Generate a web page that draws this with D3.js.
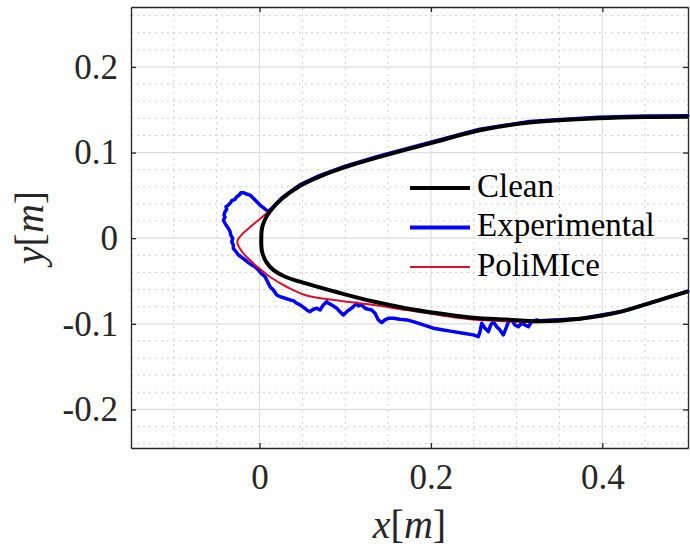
<!DOCTYPE html>
<html>
<head>
<meta charset="utf-8">
<script src="https://cdn.jsdelivr.net/npm/d3@7"></script>
<style>
  html, body { margin: 0; padding: 0; background: #fff; }
  svg { display: block; font-family: "Liberation Serif", "Times New Roman", serif; }
</style>
</head>
<body>
<svg id="chart" width="690" height="550"></svg>
<script>
// Clean airfoil contour: lower surface (right to left), leading edge, upper surface (left to right)
const cleanX = [0.500, 0.461, 0.421, 0.374, 0.327, 0.288, 0.249, 0.211, 0.172, 0.133, 0.094, 0.055, 0.030, 0.016, 0.008, 0.003, 0.002,
                0.003, 0.006, 0.012, 0.026, 0.047, 0.070, 0.100, 0.140, 0.200, 0.257, 0.315, 0.395, 0.450, 0.500];
const cleanY = [-0.062, -0.074, -0.086, -0.094, -0.097, -0.095, -0.093, -0.088, -0.082, -0.074, -0.064, -0.053, -0.045, -0.037, -0.028, -0.016, -0.003,
                0.012, 0.021, 0.031, 0.046, 0.061, 0.072, 0.083, 0.095, 0.111, 0.126, 0.135, 0.140, 0.1415, 0.1418];

// Measured ice shape (experimental): upper surface (right to left), ice horn, lower surface (left to right)
const expX = [0.500, 0.450, 0.395, 0.315, 0.257, 0.200, 0.140, 0.100, 0.070, 0.047, 0.026,
              0.0103, 0.0006, -0.0072, -0.0111, -0.0149, -0.0189, -0.0219, -0.0236, -0.0266, -0.0286, -0.0324, -0.0344,
              -0.0364, -0.0391, -0.0383, -0.0403, -0.0414, -0.0403, -0.0422, -0.0403, -0.0383, -0.0364, -0.0344, -0.0336,
              -0.0313, -0.0324, -0.0306, -0.0306, -0.0274, -0.0247, -0.0208, -0.0169, -0.0131, -0.0091, -0.0053, -0.0014,
              0.0026, 0.0064, 0.0123, 0.0161, 0.0201, 0.0239, 0.0298, 0.0356, 0.0394, 0.0434, 0.0473, 0.0511, 0.0551, 0.0589,
              0.0628, 0.0667, 0.0706, 0.0744, 0.0784, 0.0803, 0.0842, 0.0901, 0.0939, 0.0978, 0.1017, 0.1056, 0.1095, 0.1134,
              0.1153, 0.1193, 0.1231, 0.1270, 0.1309, 0.1348, 0.1386, 0.1426, 0.1464, 0.1503, 0.1561, 0.1639, 0.1718, 0.1795,
              0.1911, 0.2028, 0.2145, 0.2261, 0.2378, 0.2495, 0.2553, 0.2573, 0.2593, 0.2631, 0.2670, 0.2698, 0.2728, 0.2768,
              0.2806, 0.2845, 0.2884, 0.2903, 0.2943, 0.2981, 0.3020, 0.3059, 0.3098, 0.3137, 0.3176, 0.3235, 0.327, 0.374,
              0.421, 0.461, 0.500];
const expY = [0.1430, 0.1427, 0.1412, 0.1362, 0.1272, 0.1122, 0.0962, 0.0842, 0.0732, 0.0622, 0.0470,
              0.0309, 0.0387, 0.0466, 0.0504, 0.0516, 0.0531, 0.0531, 0.0504, 0.0484, 0.0454, 0.0438, 0.0407,
              0.0387, 0.0368, 0.0337, 0.0309, 0.0271, 0.0244, 0.0212, 0.0174, 0.0142, 0.0116, 0.0077, 0.0037,
              -0.0001, -0.0041, -0.0080, -0.0118, -0.0158, -0.0196, -0.0223, -0.0254, -0.0285, -0.0312, -0.0333, -0.0371,
              -0.0418, -0.0449, -0.0566, -0.0604, -0.0663, -0.0683, -0.0701, -0.0721, -0.0729, -0.0760, -0.0779, -0.0806, -0.0838, -0.0858,
              -0.0830, -0.0818, -0.0838, -0.0779, -0.0741, -0.0760, -0.0779, -0.0818, -0.0858, -0.0896, -0.0858, -0.0830, -0.0799, -0.0760,
              -0.0791, -0.0779, -0.0818, -0.0830, -0.0838, -0.0876, -0.0954, -0.0986, -0.0954, -0.0935, -0.0935, -0.0946, -0.0954, -0.0974,
              -0.1013, -0.1051, -0.1071, -0.1091, -0.1110, -0.1129, -0.1149, -0.1091, -0.0993, -0.1051, -0.1091, -0.1013, -0.0974, -0.1033,
              -0.1071, -0.1129, -0.1033, -0.0974, -0.0954, -0.1013, -0.1033, -0.0993, -0.1013, -0.1033, -0.0974, -0.0954, -0.0965, -0.0940,
              -0.0860, -0.0740, -0.0620];

// PoliMIce predicted ice shape around the leading edge
const iceX = [0.010, 0.001, -0.011, -0.021, -0.026, -0.023, -0.015, -0.003, 0.012, 0.032, 0.055, 0.094, 0.133, 0.172, 0.211, 0.249, 0.288, 0.316, 0.327];
const iceY = [0.031, 0.023, 0.013, 0.004, -0.004, -0.012, -0.022, -0.033, -0.045, -0.057, -0.067, -0.073, -0.078, -0.084, -0.090, -0.095, -0.097, -0.098, -0.098];

// Axis ticks
const xTicks = [0, 0.2, 0.4];
const yTicks = [-0.2, -0.1, 0, 0.1, 0.2];
const xTickLabels = ["0", "0.2", "0.4"];
const yTickLabels = ["-0.2", "-0.1", "0", "0.1", "0.2"];
const xMinor = d3.range(-0.15, 0.5001, 0.05);
const yMinor = d3.range(-0.24, 0.2601, 0.02);

const seriesNames = ["Clean", "Experimental", "PoliMIce"];
const seriesColors = ["#000000", "#0000ff", "#d6112b"];
const seriesWidths = [4, 4, 2];

const W = 690, H = 550;
const margin = { left: 131, right: 2, top: 7, bottom: 102 };
const svg = d3.select("#chart");

const x = d3.scaleLinear().domain([-0.15, 0.5]).range([margin.left, W - margin.right]);
const y = d3.scaleLinear().domain([-0.245, 0.27]).range([H - margin.bottom, margin.top]);

const axisColor = "#262626";
const isMajor = (v, ticks) => ticks.some(t => Math.abs(t - v) < 1e-6);

// Minor grid (dotted)
const grid = svg.append("g");
grid.selectAll("line.mx").data(xMinor.filter(v => !isMajor(v, xTicks))).join("line")
  .attr("x1", d => x(d)).attr("x2", d => x(d))
  .attr("y1", y.range()[0]).attr("y2", y.range()[1])
  .attr("stroke", "#cfcfcf").attr("stroke-width", 1).attr("stroke-dasharray", "2,4");
grid.selectAll("line.my").data(yMinor.filter(v => !isMajor(v, yTicks))).join("line")
  .attr("y1", d => y(d)).attr("y2", d => y(d))
  .attr("x1", x.range()[0]).attr("x2", x.range()[1])
  .attr("stroke", "#cfcfcf").attr("stroke-width", 1).attr("stroke-dasharray", "2,4");
// Major grid
grid.selectAll("line.gx").data(xTicks).join("line")
  .attr("x1", d => x(d)).attr("x2", d => x(d))
  .attr("y1", y.range()[0]).attr("y2", y.range()[1])
  .attr("stroke", "#dedede").attr("stroke-width", 1.2);
grid.selectAll("line.gy").data(yTicks).join("line")
  .attr("y1", d => y(d)).attr("y2", d => y(d))
  .attr("x1", x.range()[0]).attr("x2", x.range()[1])
  .attr("stroke", "#dedede").attr("stroke-width", 1.2);

// Curves
const toPts = (xs, ys) => xs.map((v, i) => [v, ys[i]]);
const smooth = d3.line().x(d => x(d[0])).y(d => y(d[1])).curve(d3.curveCatmullRom.alpha(0.5));
const jagged = d3.line().x(d => x(d[0])).y(d => y(d[1]));

const plot = svg.append("g");
plot.append("path").attr("d", jagged(toPts(expX, expY)))
  .attr("fill", "none").attr("stroke", seriesColors[1]).attr("stroke-width", 3.5)
  .attr("stroke-linejoin", "round").attr("stroke-linecap", "round");
plot.append("path").attr("d", smooth(toPts(iceX, iceY)))
  .attr("fill", "none").attr("stroke", seriesColors[2]).attr("stroke-width", seriesWidths[2])
  .attr("stroke-linejoin", "round");
plot.append("path").attr("d", smooth(toPts(cleanX, cleanY)))
  .attr("fill", "none").attr("stroke", seriesColors[0]).attr("stroke-width", seriesWidths[0])
  .attr("stroke-linejoin", "round");

// Axes (box with inward ticks)
const fmtX = d => xTickLabels[xTicks.indexOf(d)];
const fmtY = d => yTickLabels[yTicks.indexOf(d)];
const gB = svg.append("g").attr("transform", `translate(0,${y.range()[0]})`)
  .call(d3.axisBottom(x).tickValues(xTicks).tickFormat(fmtX).tickSizeInner(-5).tickSizeOuter(0).tickPadding(16));
const gL = svg.append("g").attr("transform", `translate(${x.range()[0]},0)`)
  .call(d3.axisLeft(y).tickValues(yTicks).tickFormat(fmtY).tickSizeInner(-5).tickSizeOuter(0).tickPadding(13));
const gT = svg.append("g").attr("transform", `translate(0,${y.range()[1]})`)
  .call(d3.axisTop(x).tickValues(xTicks).tickFormat("").tickSizeInner(-5).tickSizeOuter(0));
const gR = svg.append("g").attr("transform", `translate(${x.range()[1]},0)`)
  .call(d3.axisRight(y).tickValues(yTicks).tickFormat("").tickSizeInner(-5).tickSizeOuter(0));
[gB, gL, gT, gR].forEach(g => {
  g.select(".domain").attr("stroke", axisColor).attr("stroke-width", 1.3);
  g.selectAll(".tick line").attr("stroke", axisColor).attr("stroke-width", 1.3);
  g.selectAll(".tick text").attr("fill", axisColor)
    .style("font-family", "'Liberation Serif', serif").style("font-size", "35px");
});

// Axis titles
const xTitle = svg.append("text")
  .attr("x", (x.range()[0] + x.range()[1]) / 2).attr("y", 538)
  .attr("text-anchor", "middle").attr("fill", axisColor).style("font-size", "40px");
xTitle.append("tspan").attr("font-style", "italic").text("x");
xTitle.append("tspan").text("[");
xTitle.append("tspan").attr("font-style", "italic").text("m");
xTitle.append("tspan").text("]");

const yTitle = svg.append("text")
  .attr("transform", `translate(43,${(y.range()[0] + y.range()[1]) / 2}) rotate(-90)`)
  .attr("text-anchor", "middle").attr("fill", axisColor).style("font-size", "40px");
yTitle.append("tspan").attr("font-style", "italic").text("y");
yTitle.append("tspan").text("[");
yTitle.append("tspan").attr("font-style", "italic").text("m");
yTitle.append("tspan").text("]");

// Legend (no frame)
const legend = svg.append("g").attr("transform", "translate(410,188)");
seriesNames.forEach((name, i) => {
  const row = legend.append("g").attr("transform", `translate(0,${i * 39.5})`);
  row.append("line").attr("x1", 0).attr("x2", 60).attr("y1", 0).attr("y2", 0)
    .attr("stroke", seriesColors[i]).attr("stroke-width", seriesWidths[i] === 2 ? 2 : 4);
  row.append("text").attr("x", 67).attr("y", 8.5).attr("fill", "#000")
    .style("font-size", "33px").text(name);
});
</script>
</body>
</html>
